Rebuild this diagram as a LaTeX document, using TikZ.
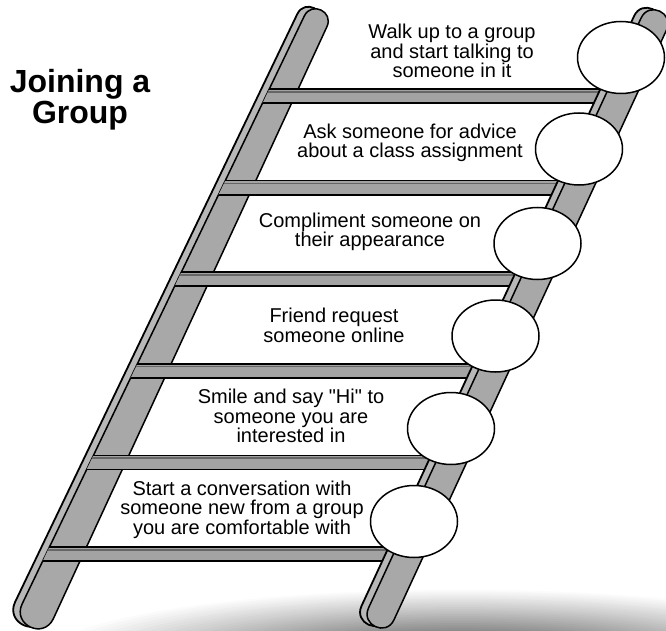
\documentclass[tikz,border=0pt]{standalone}
\usepackage{fontspec}
\setmainfont{Liberation Sans}
\newfontfamily\labelfont{Liberation Sans}
\usetikzlibrary{shapes.geometric}
\begin{document}
\begin{tikzpicture}[x=1pt,y=-1pt,
  railside/.style={fill=black!28, draw=black, line width=1.8pt, line join=round},
  railface/.style={fill=black!34, draw=black, line width=1.5pt, line join=round},
  rungfill/.style={fill=black!36},
  rungedge/.style={draw=black, line width=1.8pt},
  rungshade/.style={draw=black!60, line width=1.6pt},
  knob/.style={ellipse, draw=black, line width=1.5pt, fill=white, minimum width=87pt, minimum height=72pt, inner sep=0pt},
  steptext/.style={align=center, font=\labelfont\fontsize{20}{19.5}\selectfont, inner sep=0pt},
  titletext/.style={align=center, font=\labelfont\fontsize{32}{31}\selectfont\bfseries, inner sep=0pt}]
\useasboundingbox (0,0) rectangle (666,631);
\begin{scope}
\clip (0,0) rectangle (666,631);
% floor shadow
\foreach \i in {1,...,40}{
  \pgfmathsetmacro\s{1-\i/41}
  \pgfmathsetmacro\d{80*(\i/41)^1.05}
  \fill[black!\d] (460,660) ellipse [x radius=430*\s, y radius=72*\s];
}
% left rail
\begin{scope}[shift={(-7,-2)}]
\draw[railside] (22.1,604) -- (304.3,16) .. controls +(7.2,-15.1) and +(7.2,-15.1) .. (326.9,26.75) -- (53.3,618.8) .. controls +(-9.9,20.8) and +(-9.9,20.8) .. (22.1,604) -- cycle;
\end{scope}
\draw[railface] (22.1,604) -- (304.3,16) .. controls +(7.2,-15.1) and +(7.2,-15.1) .. (326.9,26.75) -- (53.3,618.8) .. controls +(-9.9,20.8) and +(-9.9,20.8) .. (22.1,604) -- cycle;
% rungs
\foreach \yt/\xa/\xb/\xr in {89/269.3/262.6/610, 180.6/225.3/218.6/568, 272.2/181.3/174.6/525, 363.8/137.4/130.7/483, 455.4/93.4/86.7/441, 547/49.4/42.7/398}{
  \fill[rungfill] (\xa,\yt) -- (\xr,\yt) -- (\xr,\yt+14) -- (\xb,\yt+14) -- cycle;
  \draw[rungshade] (\xa-1.3,\yt+2.8) -- (\xr,\yt+2.8);
  \draw[rungedge] (\xa,\yt) -- (\xr,\yt);
  \draw[rungedge] (\xb,\yt+14) -- (\xr,\yt+14);
}
% right rail
\begin{scope}[shift={(-7,-2)}]
\draw[railside] (368.5,608) -- (641.1,18) .. controls +(7.8,-17) and +(7.8,-17) .. (666.6,29.8) -- (394,619.8) .. controls +(-7.8,17) and +(-7.8,17) .. (368.5,608) -- cycle;
\end{scope}
\draw[railface] (368.5,608) -- (641.1,18) .. controls +(7.8,-17) and +(7.8,-17) .. (666.6,29.8) -- (394,619.8) .. controls +(-7.8,17) and +(-7.8,17) .. (368.5,608) -- cycle;
\end{scope}
% knobs
\node[knob] (e1) at (621,57.5) {};
\node[knob] (e2) at (579,149) {};
\node[knob] (e3) at (537.5,243.5) {};
\node[knob] (e4) at (495.5,336) {};
\node[knob] (e5) at (451,428.5) {};
\node[knob] (e6) at (414,521.5) {};
% texts
\node[titletext] (title) at (80,100) {Joining a\\Group};
\node[steptext] (t1) at (452,51) {Walk up to a group\\and start talking to\\someone in it};
\node[steptext] (t2) at (410,142.6) {Ask someone for advice\\about a class assignment};
\node[steptext] (t3) at (370,231.7) {Compliment someone on\\their appearance};
\node[steptext] (t4) at (334,325.5) {Friend request\\someone online};
\node[steptext] (t5) at (291,416.3) {Smile and say "Hi" to\\someone you are\\interested in};
\node[steptext] (t6) at (242,509.4) {Start a conversation with\\someone new from a group\\you are comfortable with};
\end{tikzpicture}
\end{document}
